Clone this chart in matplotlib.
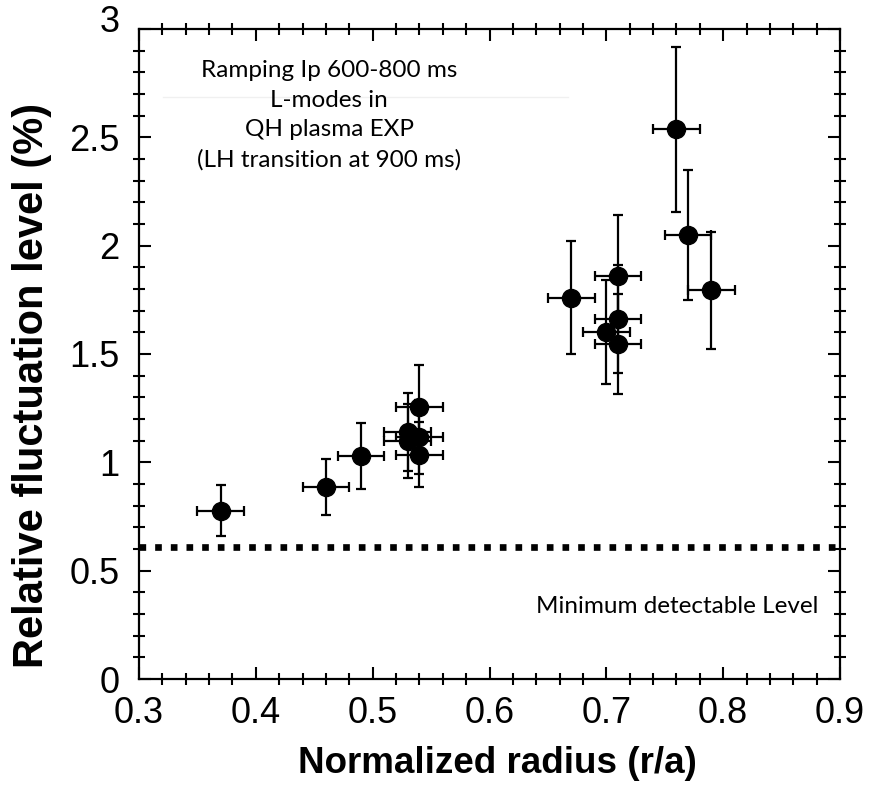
import matplotlib
matplotlib.use('Agg')
import matplotlib.pyplot as plt
from matplotlib.ticker import MultipleLocator
from matplotlib.transforms import ScaledTranslation

plt.rcParams['font.family'] = ['Liberation Sans', 'DejaVu Sans']

# data
radius = [0.37, 0.46, 0.49, 0.53, 0.53, 0.54, 0.54, 0.54,
          0.67, 0.70, 0.71, 0.71, 0.71, 0.76, 0.77, 0.79]
level = [0.777, 0.885, 1.03, 1.14, 1.10, 1.257, 1.118, 1.034,
         1.76, 1.60, 1.86, 1.66, 1.545, 2.537, 2.05, 1.795]
level_err = [0.118, 0.13, 0.153, 0.18, 0.17, 0.19, 0.17, 0.15,
             0.26, 0.24, 0.28, 0.25, 0.23, 0.38, 0.30, 0.27]
radius_err = [0.02] * len(radius)
min_level = 0.61

notes = ['Ramping Ip 600-800 ms', 'L-modes in', 'QH plasma EXP',
         '(LH transition at 900 ms)']

fig = plt.figure(figsize=(8.69, 7.90), dpi=100)
ax = fig.add_axes([0.16, 0.1405, 0.8066, 0.8228])

ax.errorbar(radius, level, xerr=radius_err, yerr=level_err, fmt='o',
            color='black', ms=13, elinewidth=1.6, capsize=3.4, capthick=1.6)

ax.plot([0.3, 0.9], [min_level, min_level], color='black', lw=4.8,
        linestyle=(0, (1, 1.35)), dash_capstyle='butt')

ax.set_xlim(0.3, 0.9)
ax.set_ylim(0, 3)
ax.xaxis.set_minor_locator(MultipleLocator(0.02))
ax.yaxis.set_minor_locator(MultipleLocator(0.1))
ax.set_xticks([0.3, 0.4, 0.5, 0.6, 0.7, 0.8, 0.9])
ax.set_xticklabels(['0.3', '0.4', '0.5', '0.6', '0.7', '0.8', '0.9'])
ax.set_yticks([0, 0.5, 1, 1.5, 2, 2.5, 3])
ax.set_yticklabels(['0', '0.5', '1', '1.5', '2', '2.5', '3'])

ax.tick_params(which='both', top=True, right=True, width=1.5, labelsize=26)
ax.tick_params(which='major', direction='in', length=8.5)
ax.tick_params(which='minor', direction='inout', length=8.5)
ax.tick_params(axis='x', which='major', pad=12)
ax.tick_params(axis='y', which='major', pad=14)
for s in ax.spines.values():
    s.set_linewidth(1.6)

# the top label sits a little above its tick
top_lab = ax.get_yticklabels()[-1]
top_lab.set_transform(top_lab.get_transform()
                      + ScaledTranslation(0, 0.1, fig.dpi_scale_trans))

ax.set_xlabel('Normalized radius (r/a)', fontsize=26.5, fontweight='bold')
ax.set_ylabel('Relative fluctuation level (%)', fontsize=30, fontweight='bold')
ax.xaxis.set_label_coords(0.512, -0.103)
ax.yaxis.set_label_coords(-0.124, 0.452)

# faint line behind the notes
ax.plot([0.3205, 0.667], [2.686, 2.686], color='#f0f0f0', lw=1)

for i, line in enumerate(notes):
    ax.text(0.4627, 2.778 - i * 0.137, line, ha='center', va='baseline',
            fontsize=17.5, family='Lato')
ax.text(0.8813, 0.305, 'Minimum detectable Level', ha='right', va='baseline',
        fontsize=17.5, family='Lato')

fig.savefig('out.png', dpi=100)
